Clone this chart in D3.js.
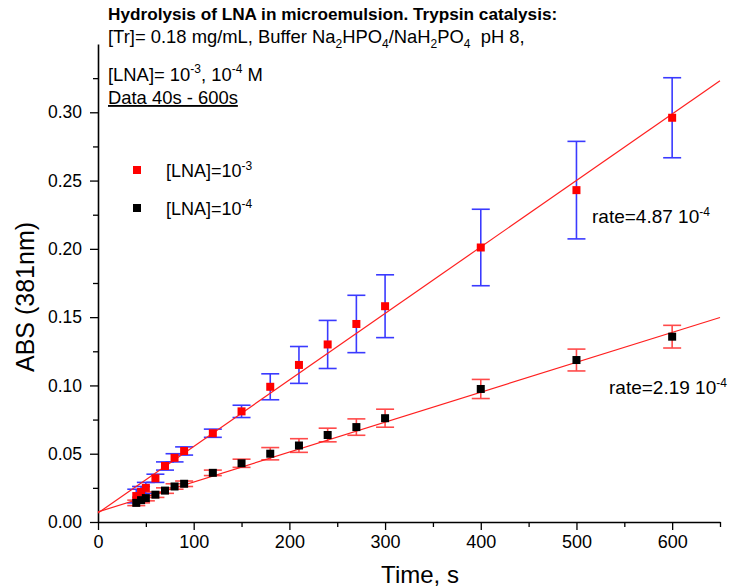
<!DOCTYPE html>
<html>
<head>
<meta charset="utf-8">
<script src="https://cdn.jsdelivr.net/npm/d3@7"></script>
<style>
body { margin: 0; background: #fff; }
text { font-family: Arial, "Liberation Sans", sans-serif; }
</style>
</head>
<body>
<div id="chart"></div>
<script>
// data
var times = [40, 45, 50, 60, 70, 80, 90, 120, 150, 180, 210, 240, 270, 300, 400, 500, 600];
var absHigh = [0.019, 0.022, 0.025, 0.032, 0.041, 0.047, 0.052, 0.065, 0.081, 0.099, 0.115, 0.130, 0.145, 0.158, 0.201, 0.243, 0.296];
var errHigh = [0.005, 0.004, 0.004, 0.003, 0.003, 0.003, 0.003, 0.003, 0.0045, 0.0095, 0.0135, 0.0176, 0.021, 0.023, 0.028, 0.0357, 0.0293];
var absLow = [0.014, 0.016, 0.0175, 0.020, 0.023, 0.026, 0.028, 0.036, 0.043, 0.050, 0.056, 0.0637, 0.0695, 0.076, 0.0974, 0.1186, 0.1357];
var errLow = [0.002, 0.002, 0.002, 0.002, 0.002, 0.002, 0.002, 0.002, 0.003, 0.0045, 0.005, 0.005, 0.006, 0.0066, 0.007, 0.008, 0.0083];
var fitSlopes = [4.87e-4, 2.19e-4];
var fitIntercepts = [0.0066, 0.0074];
var xTicks = [0, 100, 200, 300, 400, 500, 600];
var yTicks = [0, 0.05, 0.10, 0.15, 0.20, 0.25, 0.30];

var width = 734, height = 588;

var svg = d3.select('#chart').append('svg')
  .attr('width', width)
  .attr('height', height);

var x = d3.scaleLinear().domain([0, 650]).range([98, 720]);
var y = d3.scaleLinear().domain([0, 0.35]).range([522, 44]);

// minor ticks
var xMinor = d3.range(50, 651, 100);
var yMinor = d3.range(0.025, 0.35, 0.05);

var xAxis = svg.append('g')
  .attr('transform', 'translate(0,' + y(0) + ')')
  .call(d3.axisBottom(x).tickValues(xTicks).tickSize(8).tickSizeOuter(0).tickPadding(5));
svg.append('g')
  .attr('transform', 'translate(0,' + y(0) + ')')
  .call(d3.axisBottom(x).tickValues(xMinor).tickSize(5).tickSizeOuter(0).tickFormat(''))
  .select('.domain').remove();

var yAxis = svg.append('g')
  .attr('transform', 'translate(' + x(0) + ',0)')
  .call(d3.axisLeft(y).tickValues(yTicks).tickFormat(d3.format('.2f')).tickSize(8).tickSizeOuter(0).tickPadding(8));
svg.append('g')
  .attr('transform', 'translate(' + x(0) + ',0)')
  .call(d3.axisLeft(y).tickValues(yMinor).tickSize(5).tickSizeOuter(0).tickFormat(''))
  .select('.domain').remove();

svg.selectAll('.domain').attr('stroke-width', 1.6);
svg.selectAll('.tick line').attr('stroke-width', 1.3);
xAxis.selectAll('text').attr('font-size', 18).attr('fill', '#000');
yAxis.selectAll('text').attr('font-size', 17.5).attr('fill', '#000');

// axis titles
svg.append('text')
  .attr('x', 420).attr('y', 583)
  .attr('text-anchor', 'middle')
  .attr('font-size', 24)
  .text('Time, s');
svg.append('text')
  .attr('transform', 'translate(34,297) rotate(-90)')
  .attr('text-anchor', 'middle')
  .attr('font-size', 25)
  .text('ABS (381nm)');

// error bars
function errorBars(vals, errs, color) {
  var g = svg.append('g').attr('stroke', color).attr('stroke-width', 1.6);
  times.forEach(function(t, i) {
    var cx = x(t);
    g.append('line').attr('x1', cx).attr('x2', cx)
      .attr('y1', y(vals[i] - errs[i])).attr('y2', y(vals[i] + errs[i]));
    g.append('line').attr('x1', cx - 9).attr('x2', cx + 9)
      .attr('y1', y(vals[i] - errs[i])).attr('y2', y(vals[i] - errs[i]));
    g.append('line').attr('x1', cx - 9).attr('x2', cx + 9)
      .attr('y1', y(vals[i] + errs[i])).attr('y2', y(vals[i] + errs[i]));
  });
}
errorBars(absHigh, errHigh, '#3a3aff');
errorBars(absLow, errLow, '#ff4a4a');

// linear fits
var line = d3.line().x(function(d) { return x(d[0]); }).y(function(d) { return y(d[1]); });
for (var k = 0; k < fitSlopes.length; k++) {
  svg.append('path')
    .attr('d', line([[0, fitIntercepts[k]], [650, fitIntercepts[k] + fitSlopes[k] * 650]]))
    .attr('fill', 'none')
    .attr('stroke', '#ff2020')
    .attr('stroke-width', 1.2);
}

// markers
function squares(vals, color, s) {
  svg.append('g').selectAll('rect')
    .data(times)
    .enter().append('rect')
    .attr('x', function(t) { return x(t) - s / 2; })
    .attr('y', function(t, i) { return y(vals[i]) - s / 2; })
    .attr('width', s).attr('height', s)
    .attr('fill', color);
}
squares(absHigh, '#ff0000', 8);
squares(absLow, '#000000', 8);

// legend
var legend = [['#ff0000', '-3', 170], ['#000000', '-4', 208]];
legend.forEach(function(l) {
  svg.append('rect').attr('x', 133).attr('y', l[2] - 4).attr('width', 8).attr('height', 8).attr('fill', l[0]);
  var t = svg.append('text').attr('x', 166).attr('y', l[2] + 7).attr('font-size', 18);
  t.append('tspan').text('[LNA]=10');
  t.append('tspan').attr('dy', -7).attr('font-size', 12).text(l[1]);
});

// rate labels
function rateLabel(px, py, txt) {
  var t = svg.append('text').attr('x', px).attr('y', py).attr('font-size', 19);
  t.append('tspan').text(txt);
  t.append('tspan').attr('dy', -7).attr('font-size', 12).text('-4');
}
rateLabel(592, 223, 'rate=4.87 10');
rateLabel(609, 394, 'rate=2.19 10');

// header text
svg.append('text').attr('x', 108).attr('y', 20)
  .attr('font-size', 17.2).attr('font-weight', 'bold')
  .text('Hydrolysis of LNA in microemulsion. Trypsin catalysis:');

var l2 = svg.append('text').attr('x', 108).attr('y', 43).attr('font-size', 18.4);
function sub(el, s) {
  el.append('tspan').attr('dy', 5).attr('font-size', 12).text(s);
}
function back(el, s) {
  el.append('tspan').attr('dy', -5).text(s);
}
l2.append('tspan').text('[Tr]= 0.18 mg/mL, Buffer Na');
sub(l2, '2'); back(l2, 'HPO');
sub(l2, '4'); back(l2, '/NaH');
sub(l2, '2'); back(l2, 'PO');
sub(l2, '4'); back(l2, '\u00a0 pH 8,');

var l3 = svg.append('text').attr('x', 108).attr('y', 81).attr('font-size', 18.4);
l3.append('tspan').text('[LNA]= 10');
l3.append('tspan').attr('dy', -8).attr('font-size', 12).text('-3');
l3.append('tspan').attr('dy', 8).text(', 10');
l3.append('tspan').attr('dy', -8).attr('font-size', 12).text('-4');
l3.append('tspan').attr('dy', 8).text(' M');

svg.append('text').attr('x', 108).attr('y', 104)
  .attr('font-size', 18.4).attr('text-decoration', 'underline')
  .text('Data 40s - 600s');
</script>
</body>
</html>
